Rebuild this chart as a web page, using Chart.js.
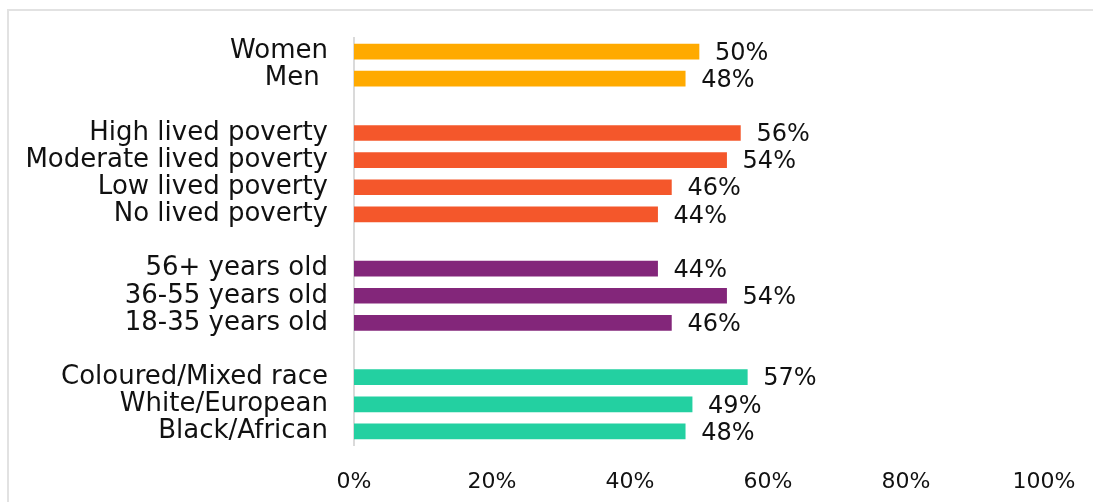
<!DOCTYPE html>
<html>
<head>
<meta charset="utf-8">
<script src="https://cdn.jsdelivr.net/npm/chart.js@4/dist/chart.umd.min.js"></script>
<style>
    html, body { margin: 0; padding: 0; background: #fff; overflow: hidden; }
    #frame {
        position: absolute; left: 7px; top: 9px; width: 1200px; height: 600px;
        border-top: 2px solid #e2e2e2; border-left: 2px solid #e2e2e2;
    }
    #wrap { position: absolute; left: 0; top: 0; width: 1093px; height: 502px; }
</style>
</head>
<body>
<div id="frame"></div>
<div id="wrap"><canvas id="povertyChart"></canvas></div>
<script>
// categorias (linhas vazias separam os grupos)
const categorias = [
    'Women', 'Men ', '',
    'High lived poverty', 'Moderate lived poverty', 'Low lived poverty', 'No lived poverty', '',
    '56+ years old', '36-55 years old', '18-35 years old', '',
    'Coloured/Mixed race', 'White/European', 'Black/African'
];
const valores = [
    50, 48, null,
    56, 54, 46, 44, null,
    44, 54, 46, null,
    57, 49, 48
];
const coresBarras = [
    '#FFAA00', '#FFAA00', null,
    '#F4572B', '#F4572B', '#F4572B', '#F4572B', null,
    '#83267A', '#83267A', '#83267A', null,
    '#23D0A1', '#23D0A1', '#23D0A1'
];
const ticksX = [0, 20, 40, 60, 80, 100];

const fonte = 'DejaVu Sans';

// rótulos de valor ao lado das barras
const rotulosValor = {
    id: 'rotulosValor',
    afterDatasetsDraw(chart) {
        const ctx = chart.ctx;
        const meta = chart.getDatasetMeta(0);
        ctx.save();
        ctx.font = '24px "' + fonte + '"';
        ctx.fillStyle = '#111';
        ctx.textAlign = 'left';
        ctx.textBaseline = 'middle';
        meta.data.forEach((bar, i) => {
            const v = valores[i];
            if (v === null) return;
            ctx.fillText(v + '%', bar.x + 16, bar.y + 2);
        });
        ctx.restore();
    }
};

document.addEventListener('DOMContentLoaded', () => {
    const ctx = document.getElementById('povertyChart').getContext('2d');

    new Chart(ctx, {
        type: 'bar',
        data: {
            labels: categorias,
            datasets: [{
                data: valores,
                backgroundColor: coresBarras,
                barThickness: 15,
                borderWidth: 0
            }]
        },
        options: {
            indexAxis: 'y',
            responsive: true,
            maintainAspectRatio: false,
            animation: false,
            layout: { padding: { top: 38, right: 49, left: 0, bottom: 0 } },
            plugins: {
                legend: { display: false },
                tooltip: { enabled: false }
            },
            scales: {
                x: {
                    min: 0,
                    max: 100,
                    afterBuildTicks: (scale) => {
                        scale.ticks = ticksX.map(v => ({ value: v }));
                    },
                    afterFit: (scale) => { scale.height = 57; },
                    grid: { display: false },
                    border: { display: false },
                    ticks: {
                        padding: 16,
                        color: '#111',
                        font: { family: fonte, size: 22 },
                        callback: (v) => v + '%'
                    }
                },
                y: {
                    afterFit: (scale) => { scale.width = 354; },
                    grid: { display: false },
                    border: { display: true, color: '#dadada', width: 2 },
                    ticks: {
                        padding: 18,
                        color: '#111',
                        autoSkip: false,
                        font: { family: fonte, size: 26 }
                    }
                }
            }
        },
        plugins: [rotulosValor]
    });
});
</script>
</body>
</html>
